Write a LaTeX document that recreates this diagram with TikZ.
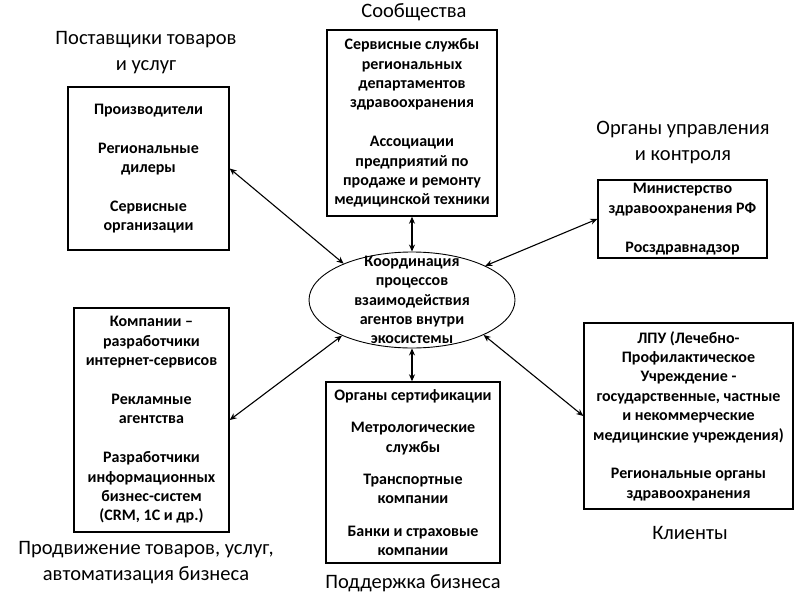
\documentclass[tikz,border=0pt]{standalone}
\usepackage{fontspec}
\setmainfont{Carlito}
\usetikzlibrary{shapes.geometric,arrows.meta}
\begin{document}
\begin{tikzpicture}[x=1pt, y=-1pt]
  \useasboundingbox (0,0) rectangle (802,599);  % Rahmen wie Vorlage.
  \tikzstyle{box}=[rectangle, draw, line width=1.4pt, inner sep=0pt, align=center,
    font=\fontsize{16}{19.4}\selectfont\bfseries]
  \tikzstyle{title}=[align=center, inner sep=0pt, font=\fontsize{20.5}{26}\selectfont]
  \tikzstyle{arr}=[<->, >={Stealth[length=7pt, width=6pt]}, line width=1.1pt]

  \node[draw, ellipse, line width=0.9pt, inner xsep=-30pt, inner ysep=-40pt,
    minimum width=206pt, minimum height=96pt, align=center,
    font=\fontsize{16}{19.4}\selectfont\bfseries] (coord) at (412, 300)
    {Координация\\процессов\\взаимодействия\\агентов внутри\\экосистемы};

  \node[box, minimum width=161pt, minimum height=163pt] (supp) at (148.5, 168.5)
    {Производители\\[19.4pt]Региональные\\дилеры\\[19.4pt]Сервисные\\организации};
  \node[box, minimum width=170pt, minimum height=186pt] (comm) at (412, 123)
    {Сервисные службы\\региональных\\департаментов\\здравоохранения\\[19.4pt]Ассоциации\\предприятий по\\продаже и ремонту\\медицинской техники};
  \node[box, minimum width=169pt, minimum height=78pt] (gov) at (682.5, 219)
    {Министерство\\здравоохранения РФ\\[19.4pt]Росздравнадзор};
  \node[box, minimum width=155pt, minimum height=224pt] (promo) at (151.5, 420)
    {Компании –\\разработчики\\интернет-сервисов\\[19.4pt]Рекламные\\агентства\\[19.4pt]Разработчики\\информационных\\бизнес-систем\\(CRM, 1С и др.)};
  \node[box, minimum width=174pt, minimum height=181pt] (biz) at (413, 472.5)
    {Органы сертификации\\[13pt]Метрологические\\службы\\[13pt]Транспортные\\компании\\[13pt]Банки и страховые\\компании};
  \node[box, minimum width=209pt, minimum height=186pt] (cli) at (688.5, 416)
    {ЛПУ (Лечебно-\\Профилактическое\\Учреждение -\\государственные, частные\\и некоммерческие\\медицинские учреждения)\\[19.4pt]Региональные органы\\здравоохранения};

  \node[title] (tcomm) at (414, 12) {Сообщества};
  \node[title] (tsupp) at (146, 53) {Поставщики товаров\\и услуг};
  \node[title] (tgov) at (683, 142) {Органы управления\\и контроля};
  \node[title] (tpromo) at (146, 563) {Продвижение товаров, услуг,\\автоматизация бизнеса};
  \node[title] (tbiz) at (413, 583) {Поддержка бизнеса};
  \node[title] (tcli) at (690, 533) {Клиенты};

  \path[arr] (supp.east) edge (coord.152);
  \path[arr] (comm.south -| coord.north) edge (coord.north);
  \path[arr] (gov.west) edge (coord.25);
  \path[arr] (promo.east) edge (coord.207);
  \path[arr] (coord.south) edge (coord.south |- biz.north);
  \path[arr] (cli.west) edge (coord.334);
\end{tikzpicture}
\end{document}
